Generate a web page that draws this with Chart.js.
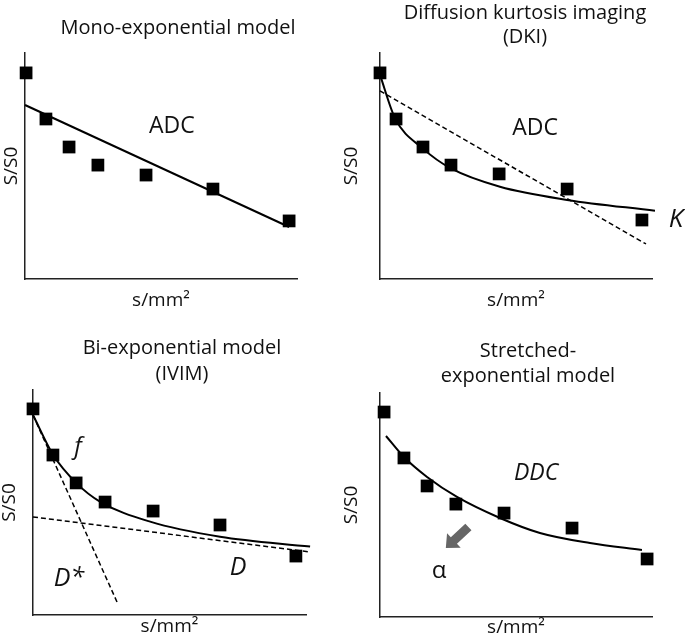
<!DOCTYPE html>
<html>
<head>
<meta charset="utf-8">
<script src="https://cdn.jsdelivr.net/npm/chart.js@4.4.1/dist/chart.umd.min.js"></script>
<style>
  html, body { margin: 0; padding: 0; background: #fff; width: 685px; height: 643px; overflow: hidden; }
  body { position: relative; }
  canvas { position: absolute; }
</style>
</head>
<body>
<canvas id="mono"></canvas>
<canvas id="dki"></canvas>
<canvas id="ivim"></canvas>
<canvas id="stretched"></canvas>
<script>
// all panels use an arbitrary 0..100 scale on both axes (schematic figure)

// Mono-exponential model
const monoX = [0.4, 7.7, 16.2, 26.8, 44.5, 69.1, 97.1];
const monoY = [91.2, 70.8, 58.4, 50.4, 46.0, 39.8, 25.7];
const monoFitX = [0, 97.1];
const monoFitY = [77.0, 23.0];

// Diffusion kurtosis imaging
const dkiX = [0, 5.9, 15.8, 26.1, 43.8, 68.8, 96.3];
const dkiY = [91.2, 70.8, 58.4, 50.4, 46.5, 39.8, 26.1];
const dkiFitX = [0, 5.5, 15.7, 26.1, 44.1, 68.8, 101.1];
const dkiFitY = [90.3, 71.2, 57.8, 48.9, 40.8, 35.0, 30.2];
const dkiAdcX = [0, 97.8];
const dkiAdcY = [83.2, 15.5];

// Bi-exponential model (IVIM)
const ivimX = [0, 7.3, 15.8, 26.4, 44.0, 68.5, 96.3];
const ivimY = [91.6, 71.1, 58.7, 50.2, 46.2, 40.0, 26.2];
const ivimFitX = [0, 7.4, 16.0, 24.5, 42.9, 68.5, 101.5];
const ivimFitY = [88.9, 71.1, 58.5, 50.4, 41.5, 34.8, 30.4];
const ivimFastX = [0, 31.1];
const ivimFastY = [88.9, 4.9];
const ivimSlowX = [0, 101.5];
const ivimSlowY = [43.6, 28.0];

// Stretched-exponential model
const strX = [1.5, 8.8, 17.3, 27.9, 45.6, 70.6, 98.2];
const strY = [91.5, 71.0, 58.5, 50.4, 46.4, 39.7, 25.9];
const strFitX = [2.2, 8.8, 17.3, 28.3, 44.1, 58.8, 77.2, 96.3];
const strFitY = [80.8, 71.4, 62.5, 53.6, 44.2, 37.5, 33.0, 29.9];
const strArrowX = [32.5, 24.2];
const strArrowY = [40.2, 30.8];

const FONT = '"Open Sans", "Noto Sans", sans-serif';
const INK = '#111';

function pts(xs, ys) {
  return xs.map((x, i) => ({ x: x, y: ys[i] }));
}

function markers(xs, ys) {
  return {
    data: pts(xs, ys), showLine: false, pointStyle: 'rect', pointRadius: 9,
    backgroundColor: '#000', borderWidth: 0, clip: false, order: 0
  };
}

function line(xs, ys, dashed, curved) {
  return {
    data: pts(xs, ys), showLine: true, pointRadius: 0, borderColor: '#000',
    borderWidth: dashed ? 1.5 : 2, borderDash: dashed ? [5, 3] : [],
    cubicInterpolationMode: curved ? 'monotone' : 'default',
    fill: false, clip: false, order: 1
  };
}

// text labels and the alpha arrow, placed in data units
const notesPlugin = {
  id: 'notes',
  afterDatasetsDraw(chart, args, opts) {
    const { ctx, scales: { x, y } } = chart;
    ctx.save();
    (opts.labels || []).forEach(l => {
      ctx.font = (l.italic ? 'italic ' : '') + l.size + 'px ' + FONT;
      ctx.fillStyle = INK;
      ctx.textAlign = 'center';
      ctx.textBaseline = 'middle';
      ctx.fillText(l.text, x.getPixelForValue(l.x), y.getPixelForValue(l.y));
    });
    if (opts.arrow) {
      const x0 = x.getPixelForValue(opts.arrow.x[0]), y0 = y.getPixelForValue(opts.arrow.y[0]);
      const x1 = x.getPixelForValue(opts.arrow.x[1]), y1 = y.getPixelForValue(opts.arrow.y[1]);
      const a = Math.atan2(y1 - y0, x1 - x0);
      const len = Math.hypot(x1 - x0, y1 - y0);
      ctx.translate(x0, y0);
      ctx.rotate(a);
      ctx.fillStyle = '#666';
      ctx.beginPath();
      ctx.moveTo(0, -4.5);
      ctx.lineTo(len - 11, -4.5);
      ctx.lineTo(len - 11, -10);
      ctx.lineTo(len, 0);
      ctx.lineTo(len - 11, 10);
      ctx.lineTo(len - 11, 4.5);
      ctx.lineTo(0, 4.5);
      ctx.closePath();
      ctx.fill();
    }
    ctx.restore();
  }
};

function makePanel(id, p) {
  const canvas = document.getElementById(id);
  canvas.width = p.w;
  canvas.height = p.h;
  canvas.style.left = p.left + 'px';
  canvas.style.top = p.top + 'px';
  return new Chart(canvas, {
    type: 'scatter',
    data: { datasets: p.datasets },
    plugins: [notesPlugin],
    options: {
      responsive: false,
      animation: false,
      events: [],
      layout: { padding: 0 },
      plugins: {
        legend: { display: false },
        tooltip: { enabled: false },
        title: {
          display: true,
          text: p.title,
          color: INK,
          font: { family: FONT, size: 20, weight: 'normal', lineHeight: p.titleLH },
          padding: { top: p.titleTop, bottom: p.titleBottom }
        },
        notes: { labels: p.labels, arrow: p.arrow }
      },
      scales: {
        x: {
          type: 'linear', min: 0, max: 100,
          ticks: { display: false },
          grid: { display: false },
          border: { display: true, color: '#222', width: 1.5 },
          title: {
            display: true, text: 's/mm²', color: INK,
            font: { family: FONT, size: 19, lineHeight: 1.2 },
            padding: { top: 0, bottom: p.xTitleBottom }
          },
          afterFit: s => { s.height = p.xH; }
        },
        y: {
          type: 'linear', min: 0, max: 100,
          ticks: { display: false },
          grid: { display: false },
          border: { display: true, color: '#222', width: 1.5 },
          title: {
            display: true, text: 'S/S0', color: INK,
            font: { family: FONT, size: 19, lineHeight: 1.2 },
            padding: { top: 0, bottom: 0 }
          },
          afterFit: s => { s.width = p.yW; }
        },
        // empty right axis: keeps the title centred like the original figure
        side: {
          type: 'linear', position: 'right', min: 0, max: 1,
          ticks: { display: false },
          grid: { display: false },
          border: { display: false },
          afterFit: s => { s.width = p.rW; }
        }
      }
    }
  });
}

makePanel('mono', {
  left: 0, top: 0, w: 356, h: 320, yW: 25, rW: 59, xH: 41, xTitleBottom: 7.6,
  title: 'Mono-exponential model', titleLH: 1.2, titleTop: 16, titleBottom: 13,
  datasets: [line(monoFitX, monoFitY, false, false), markers(monoX, monoY)],
  labels: [{ text: 'ADC', x: 54, y: 67.7, size: 23 }]
});

makePanel('dki', {
  left: 340, top: 0, w: 370, h: 320, yW: 40, rW: 58, xH: 41, xTitleBottom: 7.6,
  title: ['Diffusion kurtosis imaging', '(DKI)'], titleLH: 1.2, titleTop: 1.5, titleBottom: 3.5,
  datasets: [
    line(dkiFitX, dkiFitY, false, true),
    line(dkiAdcX, dkiAdcY, true, false),
    markers(dkiX, dkiY)
  ],
  labels: [
    { text: 'ADC', x: 57, y: 66.4, size: 23 },
    { text: 'K', x: 108.8, y: 26.1, size: 26, italic: true }
  ]
});

makePanel('ivim', {
  left: -2, top: 320, w: 368, h: 323, yW: 35, rW: 60, xH: 28, xTitleBottom: 4.6,
  title: ['Bi-exponential model', '(IVIM)'], titleLH: 1.3, titleTop: 15, titleBottom: 3,
  datasets: [
    line(ivimFitX, ivimFitY, false, true),
    line(ivimFastX, ivimFastY, true, false),
    line(ivimSlowX, ivimSlowY, true, false),
    markers(ivimX, ivimY)
  ],
  labels: [
    { text: 'f', x: 16.5, y: 74.7, size: 24, italic: true },
    { text: 'D*', x: 13.2, y: 16, size: 25, italic: true },
    { text: 'D', x: 75.1, y: 20.9, size: 25, italic: true }
  ]
});

makePanel('stretched', {
  left: 340, top: 320, w: 376, h: 323, yW: 40, rW: 64, xH: 26, xTitleBottom: 3.6,
  title: ['Stretched-', 'exponential model'], titleLH: 1.28, titleTop: 18, titleBottom: 3.8,
  datasets: [line(strFitX, strFitY, false, true), markers(strX, strY)],
  labels: [
    { text: 'DDC', x: 57.4, y: 64.3, size: 23, italic: true },
    { text: 'α', x: 21.7, y: 20.5, size: 24 }
  ],
  arrow: { x: strArrowX, y: strArrowY }
});
</script>
</body>
</html>
